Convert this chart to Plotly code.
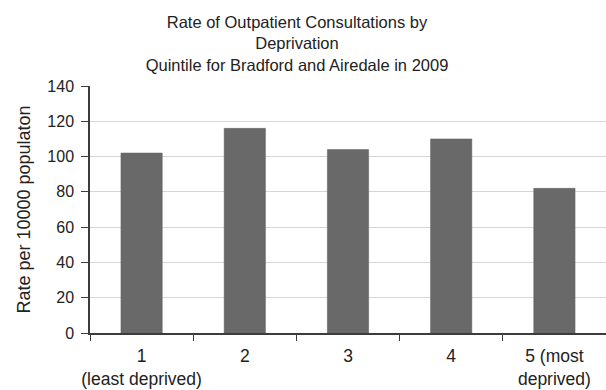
import plotly.graph_objects as go

# Outpatient consultation rates by deprivation quintile, Bradford and Airedale, 2009
quintiles = ["1<br>(least deprived)", "2", "3", "4", "5 (most<br>deprived)"]
rates = [102, 116, 104, 110, 82]
y_ticks = [0, 20, 40, 60, 80, 100, 120, 140]

FONT = "Liberation Sans, Arial, Helvetica, sans-serif"
AXIS_COLOR = "#3c3c3c"
TEXT_COLOR = "#222222"

fig = go.Figure(
    go.Bar(
        x=quintiles,
        y=rates,
        width=0.4,
        marker=dict(color="#696969", line=dict(color="#5e5e5e", width=0.5)),
    )
)

fig.update_layout(
    width=606,
    height=390,
    margin=dict(l=90, r=0, t=86, b=57),
    paper_bgcolor="white",
    plot_bgcolor="white",
    showlegend=False,
    font=dict(family=FONT, color=TEXT_COLOR),
    title=dict(
        text="Rate of Outpatient Consultations by<br>Deprivation<br>Quintile for Bradford and Airedale in 2009",
        x=297 / 606,
        xanchor="center",
        xref="container",
        y=1 - 28 / 390,
        yref="container",
        yanchor="top",
        automargin=False,
        font=dict(size=16.5, family=FONT, color=TEXT_COLOR),
    ),
)

fig.update_xaxes(
    type="category",
    tickson="boundaries",
    tickangle=0,
    automargin=False,
    ticks="outside",
    ticklen=6,
    tickcolor=AXIS_COLOR,
    ticklabelstandoff=6,
    showline=True,
    linecolor=AXIS_COLOR,
    linewidth=1.5,
    showgrid=False,
    tickfont=dict(size=17.5, family=FONT, color=TEXT_COLOR),
)

fig.update_yaxes(
    range=[0, 140],
    tickvals=y_ticks,
    automargin=False,
    ticks="outside",
    ticklen=7,
    tickcolor=AXIS_COLOR,
    ticklabelstandoff=4,
    showline=True,
    linecolor=AXIS_COLOR,
    linewidth=1.5,
    showgrid=True,
    gridcolor="#d6d6d6",
    gridwidth=1,
    zeroline=False,
    tickfont=dict(size=16, family=FONT, color=TEXT_COLOR),
    title=dict(text="Rate per 10000 populaton", font=dict(size=18, family=FONT, color=TEXT_COLOR), standoff=12),
)

fig.write_html("out.html")
